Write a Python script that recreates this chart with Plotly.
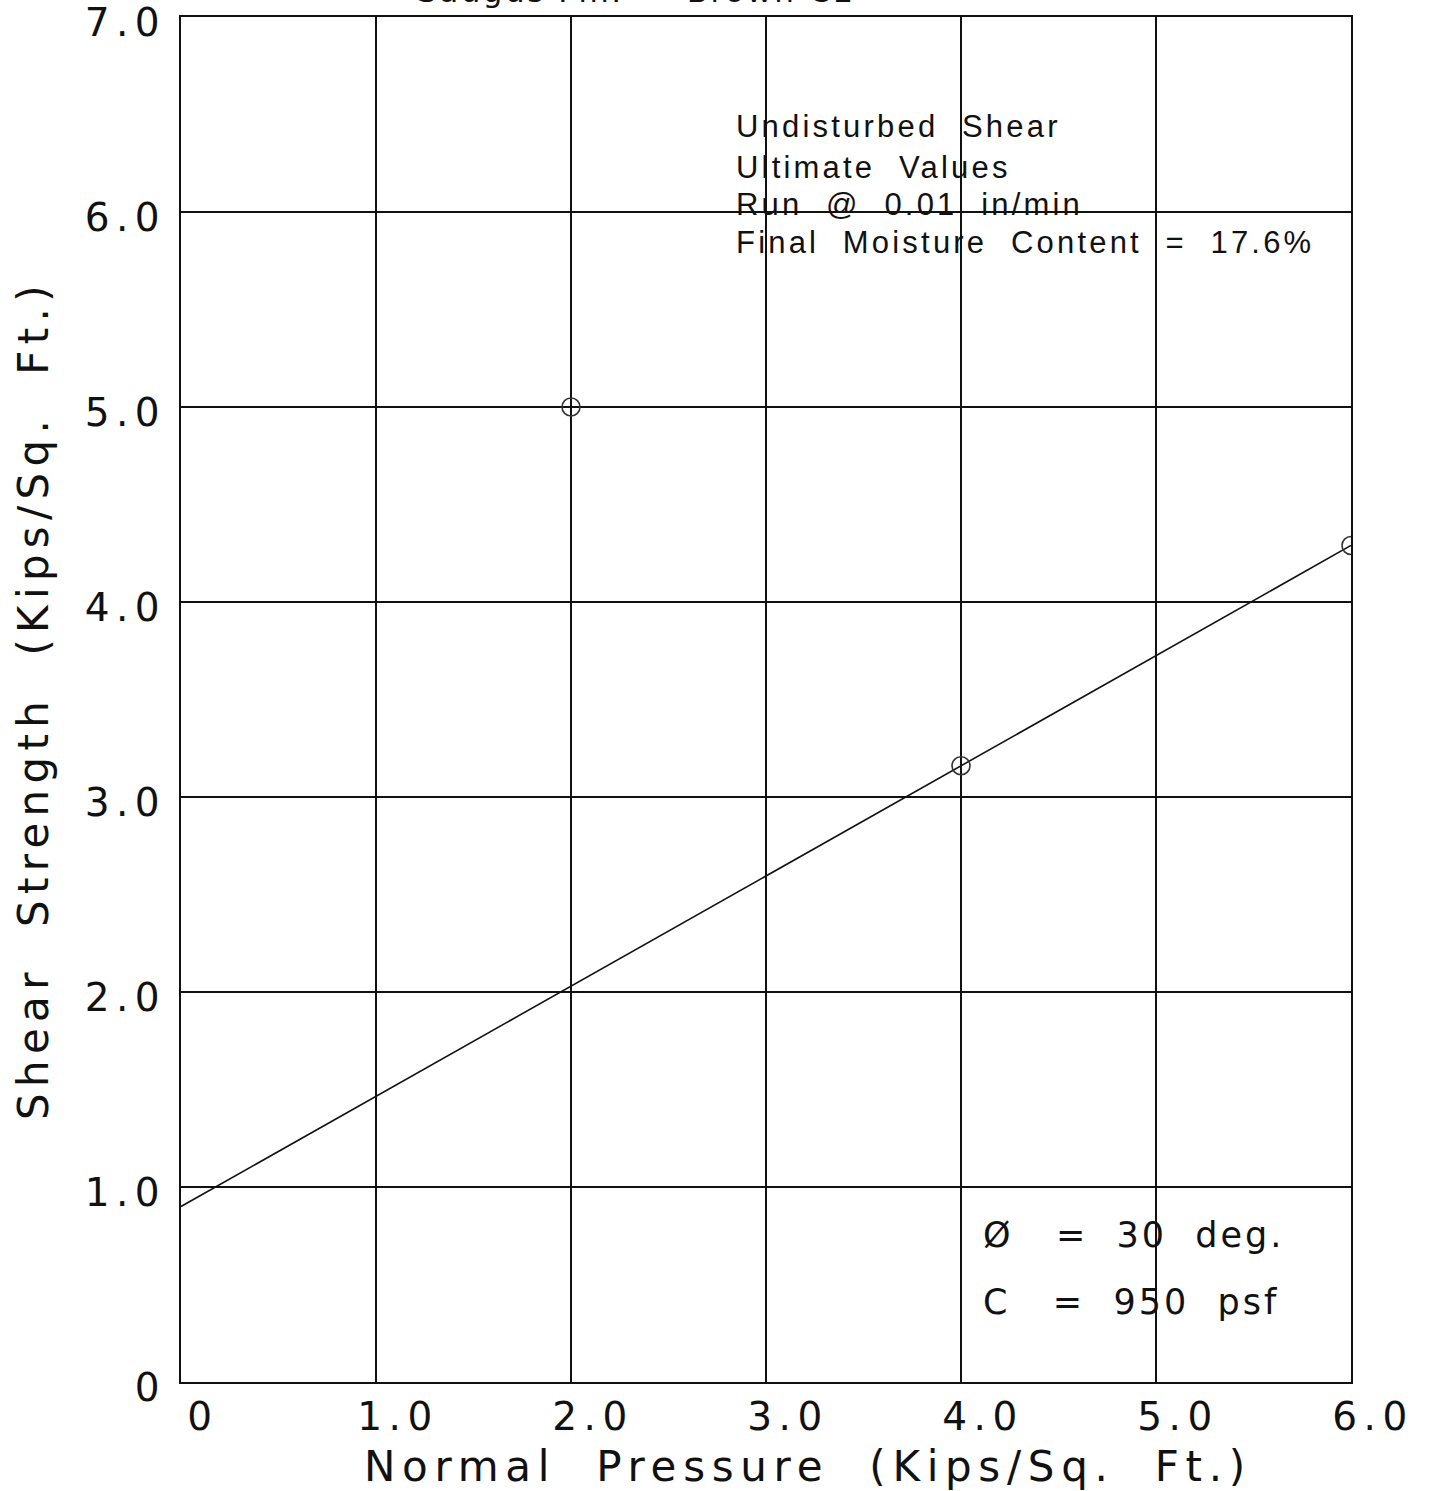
import plotly.graph_objects as go

# Data
normal_pressure = [2.0, 4.0, 6.0]
shear_strength = [5.0, 3.16, 4.29]
fit_x = [0.0, 6.0]
fit_y = [0.9, 4.29]

x_ticks = [0, 1, 2, 3, 4, 5, 6]
x_tick_labels = ["0", "1.0", "2.0", "3.0", "4.0", "5.0", "6.0"]
y_ticks = [0, 1, 2, 3, 4, 5, 6, 7]
y_tick_labels = ["0", "1.0", "2.0", "3.0", "4.0", "5.0", "6.0", "7.0"]

info_lines = ["Undisturbed  Shear", "Ultimate  Values", "Run  @  0.01  in/min",
              "Final  Moisture  Content  =  17.6%"]
info_y = [6.44, 6.226, 6.036, 5.846]
param_lines = ["Ø   =  30  deg.", "C   =  950  psf"]
param_y = [0.754, 0.41]
top_title = "Saugus Fm.  -  Brown CL"
x_title = "Normal  Pressure  (Kips/Sq.  Ft.)"
y_title = "Shear  Strength  (Kips/Sq.  Ft.)"

WIDE = "DejaVu Sans, Verdana, sans-serif"
NARROW = "Liberation Sans Narrow, Liberation Sans, sans-serif"

fig = go.Figure()
fig.add_trace(go.Scatter(x=fit_x, y=fit_y, mode="lines",
                         line=dict(color="#111111", width=1.6), showlegend=False))
fig.add_trace(go.Scatter(x=normal_pressure, y=shear_strength, mode="markers",
                         marker=dict(symbol="circle-open", size=18,
                                     line=dict(color="#333333", width=1.6),
                                     color="#333333"),
                         showlegend=False))

for t, yy in zip(info_lines, info_y):
    fig.add_annotation(x=2.835, y=yy, xref="x", yref="y", text=t, showarrow=False,
                       xanchor="left", yanchor="middle", align="left",
                       font=dict(family=NARROW, size=31, color="#111111"))
for t, yy in zip(param_lines, param_y):
    fig.add_annotation(x=4.1, y=yy, xref="x", yref="y", text=t, showarrow=False,
                       xanchor="left", yanchor="middle", align="left",
                       font=dict(family=WIDE, size=35, color="#111111"))

fig.add_annotation(x=1.2, y=1, xref="x", yref="paper", text=top_title,
                   showarrow=False, xanchor="left", yanchor="bottom", align="left", yshift=6,
                   font=dict(family=WIDE, size=31, color="#111111"))

# x-axis title (placed as annotation to match the original's off-centre position)
fig.add_annotation(x=0.928, y=0, xref="x", yref="paper", text=x_title,
                   showarrow=False, xanchor="left", yanchor="middle", align="left", yshift=-84,
                   font=dict(family=WIDE, size=42, color="#111111"))

axis_common = dict(showgrid=True, gridcolor="#111111", gridwidth=1.7,
                   showline=True, linecolor="#111111", linewidth=2, mirror=True,
                   zeroline=False, ticks="", ticklabeloverflow="allow", automargin=False,
                   tickfont=dict(family=WIDE, size=39, color="#111111"))

fig.update_xaxes(range=[0, 6], tickvals=x_ticks, ticktext=x_tick_labels,
                 ticklabelstandoff=-1, ticklabelshift=22, **axis_common)
fig.update_yaxes(range=[0, 7], tickvals=y_ticks, ticktext=y_tick_labels,
                 ticklabelstandoff=5, ticklabelshift=5,
                 title=dict(text=y_title, standoff=42,
                            font=dict(family=WIDE, size=42, color="#111111")),
                 **axis_common)

fig.update_layout(width=1434, height=1491, plot_bgcolor="white", paper_bgcolor="white",
                  margin=dict(l=181, r=83, t=17, b=109), showlegend=False)

post = """
document.body.style.margin = '0';
var gd = document.getElementById('{plot_id}');
function ls(sel, v) { gd.querySelectorAll(sel).forEach(function (e) { e.style.letterSpacing = v; }); }
ls('g.xtick text, g.ytick text', '6.5px');
ls('text.ytitle', '6.3px');
gd.querySelectorAll('g.annotation text').forEach(function (e) {
  var f = e.style.fontFamily || '';
  var t = e.textContent || '';
  var v = '3px';
  if (f.indexOf('Narrow') >= 0) { v = '3.2px'; }
  else if (t.indexOf('Normal') === 0) { v = '6.7px'; }
  else if (t.indexOf('Saugus') === 0) { v = '2.5px'; }
  e.style.letterSpacing = v;
});
"""

fig.write_html("out.html", post_script=post, config={"displayModeBar": False})
